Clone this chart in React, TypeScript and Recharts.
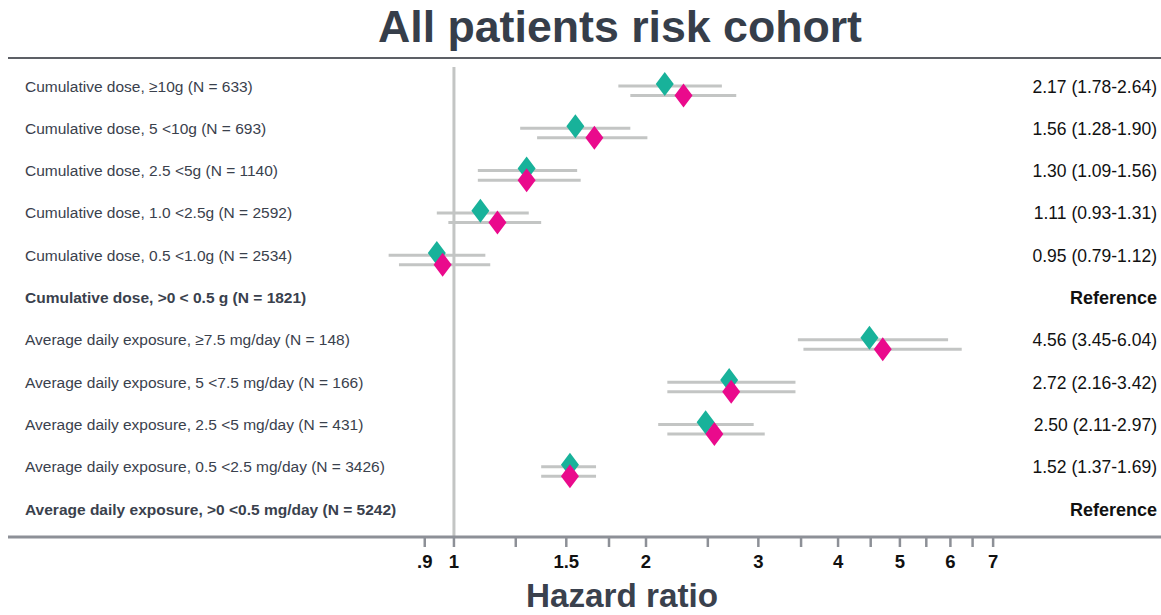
import React from 'react';
import {
  ComposedChart,
  Scatter,
  ErrorBar,
  XAxis,
  YAxis,
  ReferenceLine,
} from 'recharts';

const categories = [
  'Cumulative dose, ≥10g (N = 633)',
  'Cumulative dose, 5 <10g (N = 693)',
  'Cumulative dose, 2.5 <5g (N = 1140)',
  'Cumulative dose, 1.0 <2.5g (N = 2592)',
  'Cumulative dose, 0.5 <1.0g (N = 2534)',
  'Cumulative dose, >0 < 0.5 g (N = 1821)',
  'Average daily exposure, ≥7.5 mg/day (N = 148)',
  'Average daily exposure, 5 <7.5 mg/day (N = 166)',
  'Average daily exposure, 2.5 <5 mg/day (N = 431)',
  'Average daily exposure, 0.5 <2.5 mg/day (N = 3426)',
  'Average daily exposure, >0 <0.5 mg/day (N = 5242)',
];

const estimateText = [
  '2.17 (1.78-2.64)',
  '1.56 (1.28-1.90)',
  '1.30 (1.09-1.56)',
  '1.11 (0.93-1.31)',
  '0.95 (0.79-1.12)',
  'Reference',
  '4.56 (3.45-6.04)',
  '2.72 (2.16-3.42)',
  '2.50 (2.11-2.97)',
  '1.52 (1.37-1.69)',
  'Reference',
];

// teal series
const tealEst = [2.14, 1.55, 1.3, 1.1, 0.94, null, 4.48, 2.7, 2.48, 1.52, null];
const tealLow = [1.81, 1.27, 1.09, 0.94, 0.79, null, 3.46, 2.16, 2.09, 1.37, null];
const tealHigh = [2.63, 1.89, 1.56, 1.31, 1.12, null, 5.95, 3.43, 2.95, 1.67, null];

// magenta series
const magEst = [2.29, 1.66, 1.3, 1.17, 0.96, null, 4.7, 2.72, 2.56, 1.52, null];
const magLow = [1.89, 1.35, 1.09, 0.98, 0.82, null, 3.53, 2.16, 2.16, 1.37, null];
const magHigh = [2.77, 2.01, 1.58, 1.37, 1.14, null, 6.25, 3.43, 3.07, 1.67, null];

const xTicks = [0.9, 1, 1.25, 1.5, 1.75, 2, 2.5, 3, 3.5, 4, 4.5, 5, 5.5, 6, 6.5, 7];
const xTickLabels = ['.9', '1', '', '1.5', '', '2', '', '3', '', '4', '', '5', '', '6', '', '7'];

const TEAL = '#18b29a';
const MAGENTA = '#ea0a8c';
const CI_GREY = '#c3c5c4';
const AXIS_GREY = '#8d9097';
const TEXT_DARK = '#3a414d';
const FONT = '"Liberation Sans", Arial, Helvetica, sans-serif';

const Y_DOMAIN: [number, number] = [0.338, 11.66];
const MAG_OFFSET = 0.225;
const TEAL_MARK_OFFSET = -0.05;

const rows = categories.map((_, i) => i + 1);

const buildCI = (est: (number | null)[], lo: (number | null)[], hi: (number | null)[], off: number) =>
  est
    .map((e, i) =>
      e == null ? null : { x: e, y: rows[i] + off, err: [e - (lo[i] as number), (hi[i] as number) - e] }
    )
    .filter(Boolean);

const buildMarks = (est: (number | null)[], off: number) =>
  est.map((e, i) => (e == null ? null : { x: e, y: rows[i] + off })).filter(Boolean);

const tealCI = buildCI(tealEst, tealLow, tealHigh, 0);
const magCI = buildCI(magEst, magLow, magHigh, MAG_OFFSET);
const tealMarks = buildMarks(tealEst, TEAL_MARK_OFFSET);
const magMarks = buildMarks(magEst, MAG_OFFSET);

const Diamond = (color: string) => (props: any) => {
  const { cx, cy } = props;
  if (cx == null || cy == null) return <g />;
  return (
    <polygon
      points={`${cx},${cy - 12} ${cx + 9},${cy} ${cx},${cy + 12} ${cx - 9},${cy}`}
      fill={color}
    />
  );
};

const RowTick = (props: any) => {
  const { y, payload } = props;
  const i = Math.round(payload.value) - 1;
  const isRef = estimateText[i] === 'Reference';
  return (
    <g>
      <text
        x={25}
        y={y}
        dy={5.5}
        textAnchor="start"
        fontFamily={FONT}
        fontSize={15.5}
        fontWeight={isRef ? 700 : 400}
        fill={TEXT_DARK}
      >
        {categories[i]}
      </text>
      <text
        x={1157}
        y={y}
        dy={6.5}
        textAnchor="end"
        fontFamily={FONT}
        fontSize={isRef ? 18 : 17.5}
        fontWeight={isRef ? 700 : 400}
        fill="#111"
      >
        {estimateText[i]}
      </text>
    </g>
  );
};

const XTick = (props: any) => {
  const { x, y, payload } = props;
  const idx = xTicks.indexOf(payload.value);
  const label = idx >= 0 ? xTickLabels[idx] : '';
  if (!label) return <g />;
  return (
    <text x={x} y={y} dy={19} textAnchor="middle" fontFamily={FONT} fontSize={18.5} fontWeight={700} fill="#111">
      {label}
    </text>
  );
};

export default function App() {
  return (
    <div style={{ position: 'absolute', left: 0, top: 0, width: 1161, height: 615, background: '#fff' }}>
      <ComposedChart width={1161} height={615} margin={{ top: 58, right: 0, bottom: 48, left: 6 }}>
        <text
          x={620}
          y={42}
          textAnchor="middle"
          fontFamily={FONT}
          fontSize={44}
          fontWeight={700}
          fill="#363e4a"
          textLength={484}
          lengthAdjust="spacingAndGlyphs"
        >
          All patients risk cohort
        </text>
        <text
          x={622}
          y={607}
          textAnchor="middle"
          fontFamily={FONT}
          fontSize={34}
          fontWeight={700}
          fill={TEXT_DARK}
          textLength={192}
          lengthAdjust="spacingAndGlyphs"
        >
          Hazard ratio
        </text>
        <XAxis
          type="number"
          dataKey="x"
          scale="log"
          domain={[0.2, 12.83]}
          allowDataOverflow
          ticks={xTicks}
          interval={0}
          height={30}
          tickSize={10}
          axisLine={{ stroke: AXIS_GREY, strokeWidth: 3 }}
          tickLine={{ stroke: AXIS_GREY, strokeWidth: 2.5 }}
          tick={<XTick />}
        />
        <YAxis
          type="number"
          dataKey="y"
          domain={Y_DOMAIN}
          reversed
          allowDataOverflow
          ticks={rows}
          interval={0}
          width={2}
          axisLine={false}
          tickLine={false}
          tick={<RowTick />}
        />
        <ReferenceLine y={Y_DOMAIN[0]} stroke="#5d6066" strokeWidth={2} />
        <ReferenceLine
          segment={[
            { x: 1, y: 0.55 },
            { x: 1, y: Y_DOMAIN[1] },
          ]}
          stroke={CI_GREY}
          strokeWidth={3}
        />
        <Scatter data={tealCI} shape={() => <g />} isAnimationActive={false}>
          <ErrorBar dataKey="err" direction="x" width={0} stroke={CI_GREY} strokeWidth={3} isAnimationActive={false} />
        </Scatter>
        <Scatter data={magCI} shape={() => <g />} isAnimationActive={false}>
          <ErrorBar dataKey="err" direction="x" width={0} stroke={CI_GREY} strokeWidth={3} isAnimationActive={false} />
        </Scatter>
        <Scatter data={tealMarks} shape={Diamond(TEAL)} isAnimationActive={false} />
        <Scatter data={magMarks} shape={Diamond(MAGENTA)} isAnimationActive={false} />
      </ComposedChart>
    </div>
  );
}
